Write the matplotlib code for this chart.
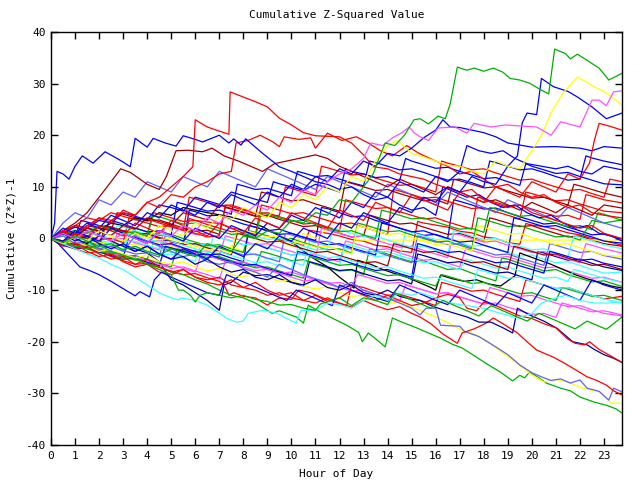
import matplotlib
matplotlib.use("Agg")
import matplotlib.pyplot as plt

# ---- colours (gnuplot-like palette) ----
RED = "#ff0000"
GRN = "#00b000"
BLU = "#0000ff"
MAG = "#ff50ff"
CYN = "#40ffff"
DRD = "#a00000"
BLK = "#000000"
YEL = "#ffff00"
DBL = "#0000a0"
SBL = "#6060ff"

TITLE = "Cumulative Z-Squared Value"
XLABEL = "Hour of Day"
YLABEL = "Cumulative (Z*Z)-1"
XTICKS = list(range(0, 24))
YTICKS = [-40, -30, -20, -10, 0, 10, 20, 30, 40]

# ---- series: (hour, cumulative value) ----
s01 = [(0,0),(0.5,-0.8),(1,0.5),(1.5,-0.5),(2,-1.5),(2.5,-1),(3,-2.2),(3.5,-1.5),(4,-2.5),(4.5,-3.2),(5,-2),(5.5,-2.8),(6,-3.5),(6.5,-1),(7,-1.8),(7.5,-2.5),(8,0.5),(8.5,0),(9,1.5),(9.5,1),(10,3.5),(10.5,3),(11,5),(11.5,4.5),(12,7.5),(12.5,7),(13,10),(13.4,12.5),(13.6,15),(13.9,18.5),(14.3,18),(14.7,20),(15.1,23),(15.35,23.2),(15.7,22.2),(16.1,23.7),(16.4,23.2),(16.6,26),(16.9,33.2),(17.3,32.6),(17.6,33),(18,32.4),(18.4,33),(18.8,32.2),(19.1,31),(19.5,30.7),(19.9,30.1),(20.3,29),(20.7,28),(20.95,36.7),(21.4,35.8),(21.6,34.8),(21.9,35.7),(22.3,34.5),(22.8,33),(23.2,30.7),(23.75,32)]
s02 = [(0,0),(0.5,1),(1,0),(1.5,1.5),(2,0.5),(2.5,-0.5),(3,1),(3.5,0),(4,-1),(4.5,1.5),(5,0.5),(5.5,2.5),(6,1.5),(6.5,4),(7,3),(7.5,5.5),(8,4.5),(8.5,6.5),(9,5.5),(9.5,8),(10,7),(10.5,9.5),(11,8.5),(11.5,11),(12,12.5),(12.5,13.5),(13,15.5),(13.3,18.5),(13.8,18),(14.2,19.5),(14.6,20.5),(14.9,21.6),(15.1,20.5),(15.35,19.7),(15.7,19),(16.1,21.4),(16.8,21.6),(17.3,20.4),(17.6,22.3),(18.3,21.6),(18.9,22),(19.5,21.8),(20.2,21.6),(20.8,20),(21.2,22.6),(22,21.6),(22.5,26.8),(22.8,26.8),(23.1,25.7),(23.4,28.4),(23.75,28.6)]
s03 = [(0,0),(0.5,-1),(1,0.5),(1.5,-0.5),(2,1.5),(2.5,0.5),(3,-0.5),(3.5,1),(4,0),(4.5,2.5),(5,1.5),(5.5,0.5),(6,3),(6.5,2),(7,4.5),(7.5,3.5),(8,6),(8.5,5),(9,4),(9.5,7),(10,6),(10.5,8.5),(11,7.5),(11.5,10),(12,9),(12.5,12),(13,11),(13.5,15),(14,18),(14.4,19),(15,16.5),(15.5,15.8),(16,15),(16.5,14.2),(17,14),(17.5,13),(18,12.5),(18.5,15),(19,14),(19.5,13.5),(20,17),(20.4,20),(20.8,24.3),(21.3,28.2),(21.9,31.3),(22.3,30.2),(22.6,29.4),(23.1,28.2),(23.75,25.9)]
s04 = [(0,0),(0.5,1),(1,-0.5),(1.5,0.5),(2,-1),(2.5,-2),(3,-1),(3.5,-2.5),(4,-1.5),(4.5,-3),(5,-4),(5.5,-2),(6,-3),(6.5,-4),(7,-1.5),(7.5,-2.5),(8,-3.5),(8.5,-1),(9,-2),(9.5,0.5),(10,-0.5),(10.5,2),(11,1),(11.5,0),(12,3),(12.5,2),(13,5),(13.5,4),(14,3),(14.5,6),(15,5),(15.5,8),(16,7),(16.5,10),(17,9),(17.5,12),(18,11),(18.5,10.5),(19,14),(19.4,16),(19.6,22.4),(19.8,24.3),(20.2,24),(20.4,31),(20.9,29.4),(21.5,28.5),(21.9,27.4),(22.5,25.5),(23.1,23.2),(23.75,24.3)]
s05 = [(0,0),(0.5,-1),(1,1),(1.5,0),(2,2.5),(2.5,1.5),(3,0.5),(3.5,3),(4,2),(4.5,1),(5,3.5),(5.5,2.5),(6,1.5),(6.5,0.5),(7,3),(7.5,2),(8,1),(8.5,4),(9,3),(9.5,2),(10,5),(10.5,4),(11,3),(11.5,2),(12,5.5),(12.5,4.5),(13,3.5),(13.5,7),(14,6),(14.5,5),(15,8.5),(15.5,7.5),(16,6.5),(16.5,5.5),(17,9),(17.5,8),(18,7),(18.5,10),(19,9),(19.5,8),(20,11),(20.5,10),(21,9),(21.5,12.5),(22,11.5),(22.4,14.6),(22.6,19),(22.8,22.3),(23.2,21.8),(23.75,21)]
s06 = [(0,0),(0.5,2),(1,1),(1.5,3),(2,2),(2.5,4.5),(3,3.5),(3.5,2.5),(4,5),(4.5,4),(5,6.5),(5.5,5.5),(6,4.5),(6.5,7),(7,6),(7.5,8.5),(8,7.5),(8.5,6.5),(9,9),(9.5,8),(10,10.5),(10.5,9.5),(11,12),(11.5,11),(12,13.5),(12.5,12.5),(13,15),(13.5,14),(14,16.5),(14.5,16),(15,17.5),(15.5,19.5),(16,21),(16.3,23),(16.6,21.6),(17,21.5),(17.5,21),(18,20.5),(18.5,19.7),(19,18.5),(20,17.7),(21,17.8),(22,17.5),(22.5,17),(23,17.8),(23.75,17.5)]
s07 = [(0,0),(0.5,-0.5),(1,1.5),(1.5,0.5),(2,-0.5),(2.5,2),(3,1),(3.5,0),(4,-1),(4.5,1.5),(5,0.5),(5.5,-0.5),(6,2),(6.5,1),(7,0),(7.5,2.5),(8,1.5),(8.5,0.5),(9,3),(9.5,2),(10,4.5),(10.5,3.5),(11,6),(11.5,5),(12,4),(12.5,7),(13,6),(13.5,9),(14,8),(14.5,11),(15,10),(15.5,9),(16,12),(16.5,11),(17,13),(17.3,18),(17.8,17),(18.3,16.5),(18.8,17),(19.3,15.5),(19.8,14.5),(20.4,14),(21,13.5),(21.5,14),(22,13),(22.5,12.5),(23,14),(23.75,13.3)]
s08 = [(0,0),(0.5,1),(1,2.5),(1.5,2),(2,4),(2.5,3.5),(3,5),(3.5,4.5),(4,7),(4.5,8),(5,10),(5.5,12),(5.9,13.9),(6,23),(6.5,21.6),(7,20.8),(7.4,20.2),(7.45,28.4),(8,27.4),(8.5,26.5),(9,25.5),(9.5,23.3),(10,22),(10.5,20.5),(11,19.9),(11.5,19.8),(12,19.7),(12.5,18.5),(13,16.2),(13.4,13.9),(14,13.5),(14.5,12.5),(15,12),(15.5,11.5),(16,10.5),(17,9),(17.5,9.5),(18,7.5),(19,6),(19.5,6.5),(20,5),(21,3.5),(22,2),(22.5,2.5),(23,1),(23.75,0)]
s09 = [(0,0),(0.5,1.5),(1,0.5),(1.5,2.5),(2,4),(2.5,3),(3,5.5),(3.5,4.5),(4,7),(4.5,6),(5,8.5),(5.5,8),(6,10),(6.5,11),(7,12.5),(7.5,13),(7.7,18.5),(8.2,19),(8.7,20),(9.2,18.8),(9.5,17.8),(9.7,19.7),(10.3,19.2),(10.8,19.5),(11,17.5),(11.5,20.4),(12.1,19),(12.7,19.7),(13.2,18.5),(13.7,17),(14.2,16),(14.8,18),(15.3,16.5),(16,15),(16.5,14),(17,12.5),(17.5,13),(18,11.5),(18.5,10),(19,10.5),(19.5,9),(20,8),(20.5,8.5),(21,7),(21.5,6),(22,6.5),(22.5,5),(23,4.5),(23.75,4)]
s10 = [(0,0),(0.15,3),(0.25,13),(0.5,12.5),(0.75,11.5),(1,14),(1.3,16),(1.75,14.6),(2.25,16.8),(2.75,15.5),(3,14.8),(3.3,13.9),(3.5,19.4),(4,17.7),(4.25,19.4),(4.75,18.5),(5.2,17.9),(5.5,19.9),(6,19.2),(6.3,18.7),(7,20),(7.4,18.5),(7.6,19.3),(7.9,18.1),(8.1,19.3),(8.8,16.5),(9.5,13.9),(10,13),(10.5,12),(11,11),(11.5,10.5),(12,9.5),(12.5,10),(13,8.5),(13.5,7.5),(14,8),(14.5,6.5),(15,5.5),(15.5,6),(16,4.5),(16.3,10),(16.8,9),(17.3,8),(17.8,8.5),(18.3,7),(18.8,6),(19.3,6.5),(19.8,5),(20.3,4),(20.8,4.5),(21.3,3),(21.8,2),(22.3,2.5),(22.8,1),(23.3,0.5),(23.75,-0.5)]
s11 = [(0,0),(0.5,3),(1,5),(1.5,4),(2,7.5),(2.5,6.5),(3,9),(3.5,8),(4,11),(4.5,10),(5,9),(5.5,12),(6,11),(6.5,10),(7,13),(7.5,12),(8,11),(8.5,10),(9,13.5),(9.5,12.5),(10,11.5),(10.5,10.5),(11,9.5),(11.5,12),(12,11),(12.5,10),(13,9),(13.5,8),(14,10.5),(14.5,9.5),(15,8.5),(15.5,7.5),(16,6.5),(16.5,9),(17,8),(17.5,7),(18,6),(18.5,5),(19,7.5),(19.5,6.5),(20,5.5),(20.5,4.5),(21,3.5),(21.5,6),(22,5),(22.5,4),(23,3),(23.75,2)]
s12 = [(0,0),(0.5,1.5),(1,3),(1.5,5),(2,8),(2.5,11),(2.9,13.5),(3.3,12.8),(3.7,11.5),(4,10.5),(4.5,9.5),(4.8,12),(5.2,17),(5.7,17.1),(6.3,16.8),(6.7,17.5),(7.2,16),(7.8,15),(8.3,14),(8.8,13),(9.3,14.5),(9.8,15),(10.4,15.6),(11,16.2),(11.5,15.5),(12,14),(12.5,13),(13,12),(13.5,11),(14,10),(14.5,11.5),(15,10.5),(15.5,9.5),(16,8.5),(16.5,10),(17,9),(17.5,8),(18,7),(18.5,7.5),(19,6.5),(19.5,5.5),(20,7),(20.5,6),(21,5),(21.5,6.5),(22,5.5),(22.5,4.5),(23,6.5),(23.75,5.9)]

low1 = [(0,0),(0.5,-0.8),(1,-1.5),(1.5,-1.2),(2,-2.5),(2.5,-3),(3,-4),(3.5,-3.6),(4,-5),(4.5,-5.5),(5,-6.5),(5.5,-7),(6,-8),(6.5,-8.8),(7,-10),(7.5,-11),(8,-11.5),(8.5,-12.5),(9.2,-14.5),(9.5,-14),(10.2,-15.2),(10.5,-16.4),(10.7,-12.9),(11.1,-14),(11.6,-15.2),(12.3,-16.8),(12.8,-18.2),(12.95,-20),(13.2,-18.3),(13.6,-19.8),(13.9,-21),(14.2,-15.4),(14.6,-16.2),(15.2,-17.3),(15.7,-18.3),(16.2,-19.3),(16.7,-20.5),(17.1,-21.2),(17.7,-23),(18.2,-24.5),(18.7,-25.9),(19.2,-27.6),(19.5,-26.5),(19.7,-27),(19.9,-25.9),(20.3,-27),(20.6,-28),(21.2,-29),(21.6,-29.5),(22,-30.7),(22.6,-31.7),(23.1,-32.3),(23.5,-33),(23.75,-33.8)]
low2 = [(0,0),(0.5,-1),(1,-0.5),(1.5,-1.5),(2,-2.5),(2.5,-2),(3,-3),(3.5,-3.8),(4,-3.2),(4.5,-4.5),(5,-5),(5.5,-4.5),(6,-5.5),(6.5,-6.3),(7,-5.8),(7.5,-7),(8,-7.5),(8.5,-6.5),(9,-7.5),(9.5,-8.3),(10,-8),(10.5,-9.2),(11,-9.8),(11.5,-9.3),(12,-10.5),(12.5,-11.2),(13,-11),(13.5,-12),(14,-12.6),(14.5,-12.3),(15,-13.3),(15.35,-13.9),(16,-15.2),(16.5,-16.3),(17.1,-17.8),(17.6,-18.5),(18.1,-19.7),(18.6,-21.5),(19.1,-23.2),(19.5,-24.6),(19.9,-26.1),(20.5,-27.8),(21,-27.3),(21.5,-27.8),(22.1,-29),(22.8,-29.7),(23.3,-31.9),(23.75,-31.9)]
low3 = [(0,0),(0.5,0.5),(1,-1),(1.5,-0.5),(2,-2),(2.5,-1.5),(3,-2.5),(3.5,0.5),(4,-0.5),(4.5,-1.5),(5,-2.5),(5.5,-3.5),(6,-3),(6.5,-4.5),(7,-5),(7.5,-4.5),(8,-5.8),(8.5,-6.5),(9,-7.5),(9.5,-5),(10,-6),(10.5,-7),(11,-7.8),(11.5,-8.5),(12,-9.5),(12.5,-8.5),(13,-10),(13.5,-10.8),(14,-11.6),(14.5,-12.5),(15,-13.5),(15.35,-14.8),(15.6,-13.5),(16,-13.5),(16.2,-16.8),(17,-17),(17.2,-18),(17.8,-19),(18.5,-21),(19,-22.5),(19.5,-24.5),(20,-26),(20.4,-26.8),(20.8,-27.5),(21.2,-27.2),(21.6,-28),(22,-27.4),(22.3,-29),(22.8,-29.6),(23.2,-31.3),(23.4,-29),(23.75,-29.7)]
low4 = [(0,0),(0.5,-1),(1,-2),(1.5,-1.5),(2,-3),(2.5,-4),(3,-3.5),(3.5,-5),(4,-4),(4.5,-5.5),(5,-6.5),(5.5,-6),(6,-7.5),(6.5,-8),(7,-7.5),(7.5,-9),(8,-9.5),(8.5,-8.5),(9,-10),(9.5,-11),(10,-10.5),(10.5,-12),(11,-12.5),(11.5,-11.5),(12,-12.5),(12.5,-13.3),(13,-12),(13.5,-13),(14,-13.8),(14.5,-13.2),(15,-14.5),(15.35,-15.2),(15.8,-16.5),(16.3,-18.5),(16.9,-20.3),(17.1,-18.3),(17.6,-17.5),(18.1,-16.4),(18.4,-15.4),(18.9,-16.8),(19.4,-18.3),(19.8,-20),(20.2,-21.6),(20.9,-23),(21.3,-24),(21.7,-25.1),(22.3,-26.8),(22.7,-27.5),(23.1,-28.4),(23.4,-29.5),(23.75,-30.3)]
low5 = [(0,0),(0.5,1),(1,0),(1.5,-1),(2,0.5),(2.5,-0.5),(3,-1.5),(3.5,-2.5),(4,-1.5),(4.5,-3),(5,-4),(5.5,-3.5),(6,-5),(6.5,-4),(7,-5.5),(7.5,-6.5),(8,-6),(8.5,-7.5),(9,-8),(9.5,-7),(10,-8.5),(10.5,-9),(11,-8),(11.5,-9.5),(12,-10),(12.5,-9),(13,-10.5),(13.5,-11),(14,-10),(14.5,-11.2),(15,-11.8),(15.35,-12),(15.8,-13),(16.3,-13.8),(16.8,-14.5),(17.3,-15.2),(17.8,-16.2),(18.3,-16.2),(18.8,-17.3),(19.2,-18.3),(19.4,-13.5),(19.9,-14.8),(20.5,-16),(21.05,-17.4),(21.4,-18.8),(21.7,-20),(22.3,-20.6),(22.6,-21.5),(23,-22.5),(23.4,-23.2),(23.75,-24)]
low6 = [(0,0),(0.5,-1.5),(1,-1),(1.5,-2.5),(2,-3.5),(2.5,-3),(3,-4.5),(3.5,-5.5),(4,-5),(4.5,-6.5),(5,-7),(5.5,-6),(6,-7.5),(6.5,-8.5),(7,-9),(7.5,-8),(8,-9.5),(8.5,-10),(9,-11),(9.5,-10.5),(10,-11.5),(10.5,-12),(11,-11),(11.5,-12.2),(12,-11.5),(12.5,-10),(13,-11),(13.5,-12),(14,-11),(14.5,-12),(15,-13),(15.5,-12.5),(16,-11.5),(16.5,-10.8),(17,-11.5),(17.3,-13.5),(17.7,-14),(18,-12.3),(18.5,-13),(19,-14),(19.5,-15),(20,-15.5),(20.5,-16.5),(21,-17.3),(21.5,-19.5),(21.8,-20.3),(22.2,-20.6),(22.4,-20),(22.8,-21.5),(23.3,-22.8),(23.75,-24)]
low7 = [(0,0),(0.3,-1),(0.6,-2.5),(0.9,-4),(1.2,-5.5),(1.6,-6.2),(2,-7),(2.5,-8.3),(3.1,-10),(3.5,-11.1),(3.7,-10.3),(4.1,-11.3),(4.3,-8),(4.6,-6.5),(5,-7.5),(5.5,-8.5),(6,-9.5),(6.5,-10.5),(7,-11),(7.3,-7),(7.8,-8),(8.3,-9),(8.8,-10),(9.3,-11),(9.8,-12),(10.2,-10),(10.7,-11),(11.2,-12),(11.7,-13),(12,-9),(12.5,-10),(13,-10.8),(13.5,-11.5),(14,-12.2),(14.5,-9),(15,-10),(15.5,-11),(16,-12),(16.5,-12.8),(17,-10),(17.5,-11),(18,-12),(18.5,-13),(19,-10.5),(19.5,-11.5),(20,-12.5),(20.5,-9),(21,-10),(21.5,-11),(22,-12),(22.5,-8),(23,-9),(23.75,-10)]
low8 = [(0,0),(0.5,-1),(1,-2),(1.5,-3),(2,-3.8),(2.5,-5),(3,-6),(3.5,-7.5),(4,-9),(4.5,-10.5),(5,-11.5),(5.3,-11.9),(5.4,-11.5),(6,-12),(6.5,-12.9),(7.3,-15.4),(7.7,-16.2),(8,-16),(8.2,-14.5),(8.8,-13.9),(9.4,-14.5),(10.2,-16.4),(10.4,-13.9),(11,-14),(11.5,-12.5),(12,-12.8),(12.5,-13.5),(13,-12),(13.5,-11),(14,-12),(14.5,-10.5),(15,-11),(15.35,-10.5),(16,-11.5),(16.6,-12.5),(17.3,-13),(18,-13.5),(18.7,-14.5),(19.4,-15.4),(20,-14.5),(20.4,-12.5),(21,-11.5),(21.4,-11),(22,-12),(22.6,-12.5),(23.1,-12.5),(23.75,-12.3)]
low9 = [(0,0),(0.5,-0.5),(1,-1.5),(1.5,-2),(2,-1.2),(2.5,-2.5),(3,-3.2),(3.5,-4),(4,-5),(4.5,-6),(5,-7),(5.3,-10),(5.5,-10),(5.8,-11),(6,-12.3),(6.2,-11),(6.5,-10.5),(7,-11),(7.5,-11.5),(8,-11),(8.5,-11.8),(9,-12.2),(9.5,-12.9),(10,-12.8),(10.5,-13.5),(11,-13.9),(11.2,-12.7),(12,-11.5),(12.5,-13),(13,-11.5),(13.5,-12),(14,-12.8),(14.3,-10.5),(14.8,-11.5),(15.3,-12.5),(15.8,-13.5),(16.3,-12),(16.8,-13),(17.3,-14),(17.8,-15),(18.3,-13),(18.8,-14),(19.3,-15),(19.8,-16),(20.3,-14.5),(20.8,-15.5),(21.3,-16.5),(21.8,-17.5),(22.3,-16),(23.1,-17.6),(23.75,-15.2)]

c01 = [(0,0),(0.5,-0.5),(1,-0.8),(1.5,-1.5),(2,-1.8),(2.25,2.2),(2.5,1.8),(3,1.5),(3.5,1.2),(4,0.4),(4.5,0),(5,-0.7),(5.5,-1.1),(5.75,3.9),(6,3.5),(6.5,3.2),(7,2.9),(7.5,2),(8,1.6),(8.5,0.8),(9,0.5),(9.5,-0.3),(10,-0.6),(10.5,-1.4),(10.75,1.6),(11,1.4),(11.5,1),(12,0.5),(12.5,-0.2),(13,-0.5),(13.5,-1.3),(14,-1.6),(14.5,-2.4),(15,-2.7),(15.25,3.3),(15.5,3),(16,2.6),(16.5,2.2),(17,1.4),(17.5,1.1),(18,0.3),(18.5,0),(19,-0.8),(19.5,-1.1),(19.75,2.9),(20,2.6),(20.5,2.3),(21,1.8),(21.5,1.1),(22,0.7),(22.5,0),(23,-0.4),(23.75,-1.3)]
c02 = [(0,0),(0.5,-1.2),(1,-1),(1.5,-2),(2,-2.8),(2.5,-2.5),(3,-3.5),(3.5,-4.2),(4,-4),(4.25,-1),(4.5,-1.3),(5,-2),(5.5,-2.6),(6,-2.4),(6.5,-3.3),(7,-4),(7.5,-4.8),(8,-4.6),(8.5,-5.4),(8.75,-2.5),(9,-2.8),(9.5,-3.5),(10,-4.3),(10.5,-4.1),(11,-5),(11.5,-5.7),(12,-6.3),(12.5,-6.1),(13,-7),(13.25,-2),(13.5,-2.3),(14,-3),(14.5,-3.8),(15,-4.5),(15.5,-4.3),(16,-5.2),(16.5,-6),(17,-5.8),(17.5,-6.7),(18,-7.5),(18.5,-8.2),(18.75,-3.8),(19,-4),(19.5,-4.8),(20,-5.5),(20.5,-6.3),(21,-6),(21.5,-7),(22,-7.7),(22.5,-8.4),(23,-8.2),(23.75,-9.3)]
c03 = [(0,0),(0.5,0.8),(1,0.3),(1.25,3.5),(1.5,3.2),(2,2.5),(2.5,2.2),(3,1.4),(3.5,0.8),(4,0.9),(4.5,0),(5,-0.6),(5.5,-1.2),(5.75,5.5),(6,5.2),(6.5,4.4),(7,4.5),(7.5,3.6),(8,2.8),(8.5,2.2),(9,1.5),(9.5,1.8),(10,1),(10.5,0.3),(11,-0.4),(11.25,6),(11.5,5.8),(12,5),(12.5,4.2),(13,4.4),(13.5,3.5),(14,2.8),(14.5,2),(15,1.3),(15.5,0.6),(16,0.8),(16.5,0),(16.75,7.5),(17,7.2),(17.5,6.5),(18,5.7),(18.5,5.9),(19,5),(19.5,4.2),(20,3.5),(20.5,2.8),(21,3),(21.5,2.2),(22,1.5),(22.5,0.7),(23,0.9),(23.75,-0.2)]
c04 = [(0,0),(0.5,-0.6),(1,-1.4),(1.5,-1.1),(2,-2),(2.5,-2.6),(2.75,1),(3,0.7),(3.5,0),(4,-0.7),(4.5,-0.4),(5,-1.2),(5.5,-2),(6,-2.7),(6.5,-2.4),(7,-3.3),(7.25,0.5),(7.5,0.2),(8,-0.5),(8.5,-1.2),(9,-1),(9.5,-1.8),(10,-2.5),(10.5,-3.2),(11,-3),(11.5,-3.8),(12,-4.5),(12.25,-0.5),(12.5,-0.8),(13,-1.5),(13.5,-2.2),(14,-2),(14.5,-2.8),(15,-3.5),(15.5,-4.2),(16,-4),(16.5,-4.8),(17,-5.5),(17.25,-2),(17.5,-2.3),(18,-3),(18.5,-3.7),(19,-3.5),(19.5,-4.3),(20,-5),(20.5,-5.7),(21,-5.5),(21.5,-6.3),(22,-7),(22.5,-7.7),(23,-7.5),(23.75,-8.5)]
c05 = [(0,0),(0.5,0.5),(1,-0.2),(1.5,-0.8),(2,-0.6),(2.5,-1.4),(3,-2),(3.5,-1.8),(4,-2.5),(4.5,-3.2),(5,-3),(5.5,-3.8),(6,-4.4),(6.25,-1),(6.5,-1.3),(7,-2),(7.5,-2.6),(8,-2.4),(8.5,-3.2),(9,-3.9),(9.5,-3.7),(10,-4.5),(10.5,-5.2),(10.75,-0.5),(11,-0.8),(11.5,-1.5),(12,-2.2),(12.5,-2),(13,-2.8),(13.5,-3.5),(14,-3.3),(14.5,-4),(14.75,1.5),(15,1.2),(15.5,0.5),(16,-0.2),(16.5,0),(17,-0.8),(17.5,-1.5),(18,-1.3),(18.5,-2),(19,-2.7),(19.5,-3.4),(20,-3.2),(20.5,-4),(21,-4.7),(21.5,-4.5),(22,-5.2),(22.5,-6),(23,-6.7),(23.75,-6.5)]
c06 = [(0,0),(0.5,1.2),(1,0.8),(1.5,2.5),(2,2),(2.5,1.5),(2.75,5),(3,4.7),(3.5,4),(4,3.4),(4.5,3.6),(5,2.8),(5.5,2),(6,1.4),(6.5,1.6),(7,0.8),(7.25,6),(7.5,5.7),(8,5),(8.5,4.3),(9,4.5),(9.5,3.7),(10,3),(10.5,2.3),(11,2.5),(11.5,1.7),(12,1),(12.5,0.3),(13,0.5),(13.25,4.5),(13.5,4.2),(14,3.5),(14.5,2.8),(15,3),(15.5,2.2),(16,1.5),(16.5,0.8),(17,1),(17.5,0.2),(18,-0.5),(18.25,4),(18.5,3.7),(19,3),(19.5,2.3),(20,2.5),(20.5,1.7),(21,1),(21.5,0.3),(22,0.5),(22.5,-0.3),(23,-1),(23.75,-1.5)]
c07 = [(0,0),(0.5,1),(1,0.5),(1.5,2),(2,1.5),(2.5,3),(3,2.5),(3.5,4),(4,3.5),(4.5,5),(5,4.5),(5.5,6),(6,5.5),(6.5,5),(7,4.6),(7.45,4.2),(8,3.5),(8.8,2.3),(9.5,0.5),(10.2,-1.3),(10.8,-3.5),(11.5,-5.5),(12,-7.5),(12.6,-9.6),(12.75,-4.2),(13.3,-5),(13.8,-6),(14.3,-6.8),(14.8,-7.5),(15.3,-8.5),(15.8,-9.5),(16,-10),(16.2,-7.1),(16.7,-7.8),(17.2,-8.3),(17.7,-8),(18.2,-8.8),(18.7,-9.2),(19.3,-7.2),(19.5,-2.8),(20.2,-4),(20.8,-5),(21.3,-6),(21.8,-7),(22.3,-7.8),(22.8,-8.5),(23.3,-9.2),(23.75,-9.6)]
c08 = [(0,0),(0.5,-0.5),(1,0.5),(1.5,0),(2,-1),(2.5,-0.5),(3,-1.5),(3.5,-1),(4,-2),(4.5,-0.5),(5,-1.5),(5.5,-2.5),(6,-1),(6.5,-2),(7,-3),(7.5,-1.5),(8,-2.5),(8.5,-1),(9,0.5),(9.5,-0.5),(10,-1.5),(10.5,1),(11,0),(11.5,2),(12,1),(12.4,3),(12.7,-0.3),(23.75,-0.3)]
c09 = [(0,0),(0.5,-0.5),(1,0.5),(1.5,0),(2,-0.8),(2.5,-1.5),(3,-1.2),(3.5,-2),(4,-2.8),(4.5,-4.5),(5,-8),(5.5,-9),(6,-10.5),(6.5,-12),(7,-13.9),(7.2,-9),(7.5,-8.5),(8,-6.5),(8.5,-7.2),(9,-7),(9.5,-7.8),(10,-8.5),(10.5,-9.2),(10.75,-4.5),(11,-4.8),(11.5,-5.5),(12,-6.2),(12.5,-6),(13,-6.8),(13.5,-7.5),(14,-8.2),(14.5,-8),(15,-8.8),(15.25,-3),(15.5,-3.3),(16,-4),(16.5,-4.7),(17,-4.5),(17.5,-5.3),(18,-6),(18.5,-6.7),(19,-6.5),(19.5,-7.3),(20,-8),(20.25,-2.5),(20.5,-2.8),(21,-3.5),(21.5,-4.2),(22,-4),(22.5,-4.8),(23,-5.5),(23.75,-6.2)]
c10 = [(0,0),(0.5,1.5),(1,1),(1.5,0.3),(2,2.5),(2.5,2),(3,1.3),(3.5,0.6),(4,0.8),(4.25,5),(4.5,4.7),(5,4),(5.5,3.3),(6,3.5),(6.5,2.7),(7,2),(7.5,1.3),(8,1.5),(8.5,0.7),(8.75,6.5),(9,6.2),(9.5,5.5),(10,4.8),(10.5,5),(11,4.2),(11.5,3.5),(12,2.8),(12.5,3),(13,2.2),(13.5,1.5),(14,0.8),(14.25,9.5),(14.5,9.2),(15,8.5),(15.5,7.8),(16,8),(16.5,7.2),(17,6.5),(17.5,5.8),(18,6),(18.5,5.2),(19,4.5),(19.5,3.8),(19.75,9),(20,8.7),(20.5,8),(21,7.3),(21.5,7.5),(22,6.7),(22.5,6),(23,5.3),(23.75,5)]
c11 = [(0,0),(0.5,-0.8),(1,0.6),(1.5,0),(2,-0.7),(2.5,-1.4),(3,-1.2),(3.5,2),(4,1.3),(4.5,0.6),(5,0.8),(5.5,0),(6,-0.7),(6.5,-1.4),(7,-1.2),(7.5,-2),(8,-2.7),(8.25,1.5),(8.5,1.2),(9,0.5),(9.5,-0.2),(10,0),(10.5,-0.8),(11,-1.5),(11.5,-2.2),(12,-2),(12.5,-2.8),(12.75,3),(13,2.7),(13.5,2),(14,1.3),(14.5,1.5),(15,0.7),(15.5,0),(16,-0.7),(16.5,-0.5),(17,-1.3),(17.5,-2),(17.75,4),(18,3.7),(18.5,3),(19,2.3),(19.5,2.5),(20,1.7),(20.5,1),(21,0.3),(21.5,0.5),(22,-0.3),(22.5,3.5),(23,3),(23.75,3.6)]
c12 = [(0,0),(0.5,-1),(1,-1.8),(1.5,-1.5),(2,-2.3),(2.5,-3),(3,-3.8),(3.25,0.5),(3.5,0.2),(4,-0.5),(4.5,-1.2),(5,-1),(5.5,-1.8),(6,-2.5),(6.5,-3.2),(7,-3),(7.5,-3.8),(8,-4.5),(8.25,2.5),(8.5,2.2),(9,1.5),(9.5,0.8),(10,1),(10.5,0.2),(11,-0.5),(11.5,-1.2),(12,-1),(12.5,-1.8),(13,-2.5),(13.5,-3.2),(13.75,3),(14,2.7),(14.5,2),(15,1.3),(15.5,1.5),(16,0.7),(16.5,0),(17,-0.7),(17.5,-0.5),(18,-1.3),(18.5,-2),(19,-2.7),(19.25,4),(19.5,3.7),(20,3),(20.5,2.3),(21,2.5),(21.5,1.7),(22,1),(22.5,0.3),(23,-0.5),(23.75,-0.9)]
c13 = [(0,0),(0.5,0.5),(1,-0.3),(1.5,-1),(2,-0.8),(2.5,-1.6),(3,-2.3),(3.5,-3),(4,-2.8),(4.5,-3.6),(4.75,0.5),(5,0.2),(5.5,-0.5),(6,-1.2),(6.5,-1),(7,-1.8),(7.5,-2.5),(8,-3.2),(8.5,-3),(9,-3.8),(9.5,-4.5),(9.75,1),(10,0.7),(10.5,0),(11,-0.7),(11.5,-0.5),(12,-1.3),(12.5,-2),(13,-2.7),(13.5,-2.5),(14,-3.3),(14.5,-4),(15,-4.7),(15.25,0.5),(15.5,0.2),(16,-0.5),(16.5,-1.2),(17,-1),(17.5,-1.8),(18,-2.5),(18.5,-3.2),(19,-3),(19.5,-3.8),(20,-4.5),(20.5,-5.2),(20.75,-1),(21,-1.3),(21.5,-2),(22,-2.7),(22.5,-2.5),(23,-3.3),(23.75,-4)]
c14 = [(0,0),(0.5,-1),(1,-2),(1.5,-2.8),(2,-2.5),(2.5,-3.5),(3,-4.3),(3.5,-5),(4,-4.8),(4.5,-5.6),(5,-6.3),(5.5,-7),(6,-6.8),(6.5,-7.6),(7,-8.3),(7.2,-9),(7.4,-11),(7.6,-10.5),(8,-11.2),(8.5,-11.5),(9,-12.9),(9.5,-11.5),(10,-11.8),(10.3,-10),(10.8,-10.5),(11.3,-11.5),(11.8,-12.3),(12.3,-13),(12.5,-9),(13,-9.5),(13.5,-10.3),(14,-11),(14.5,-10.8),(15,-11.5),(15.5,-12.2),(16,-13),(16.25,-8.5),(16.5,-8.8),(17,-9.5),(17.5,-10.2),(18,-10),(18.5,-10.8),(19,-11.5),(19.5,-12.2),(19.75,-8),(20,-8.3),(20.5,-9),(21,-9.7),(21.5,-9.5),(22,-10.3),(22.5,-11),(23,-11.7),(23.75,-11.2)]
c15 = [(0,0),(0.5,0.7),(1,0),(1.5,1.2),(2,0.5),(2.5,-0.2),(3,0),(3.5,-0.8),(4,-1.5),(4.5,-2.2),(4.75,2.5),(5,2.2),(5.5,1.5),(6,0.8),(6.5,1),(7,0.2),(7.5,-0.5),(8,-1.2),(8.5,-1),(9,-1.8),(9.5,-2.5),(10,-3.2),(10.5,-3),(11,-3.8),(11.25,2),(11.5,1.7),(12,1),(12.5,0.3),(13,0.5),(13.5,-0.3),(14,-1),(14.5,-1.7),(15,-1.5),(15.5,-2.3),(16,-3),(16.5,-3.7),(16.75,1),(17,0.7),(17.5,0),(18,-0.7),(18.5,-0.5),(19,-1.3),(19.5,-2),(20,-2.7),(20.5,-2.5),(21,-3.3),(21.5,-4),(22,-4.7),(22.25,-1),(22.5,-1.3),(23,-2),(23.75,-2.8)]
c16 = [(0,0),(0.5,-0.5),(1,-1.3),(1.5,-2),(1.75,1),(2,0.7),(2.5,0),(3,-0.7),(3.5,-0.5),(4,-1.3),(4.5,-2),(5,-2.7),(5.5,-2.5),(6,-3.3),(6.5,-4),(6.75,0.5),(7,0.2),(7.5,-0.5),(8,-1.2),(8.5,-1),(9,-1.8),(9.5,-2.5),(10,-3.2),(10.5,-3),(11,-3.8),(11.5,-4.5),(12,-5.2),(12.25,-1),(12.5,-1.3),(13,-2),(13.5,-2.7),(14,-2.5),(14.5,-3.3),(15,-4),(15.5,-4.7),(16,-4.5),(16.5,-5.3),(17,-6),(17.25,-4),(17.5,-4.3),(18,-5),(18.5,-5.7),(19,-5.5),(19.5,-6.3),(20,-7),(20.5,-7.7),(21,-7.5),(21.5,-8.3),(21.75,-6),(22,-6.3),(22.5,-7),(23,-7.7),(23.75,-8.5)]
c17 = [(0,0),(0.5,1),(1,2.2),(1.5,1.5),(2,0.8),(2.5,3.5),(3,2.8),(3.5,2),(4,1.3),(4.5,1.5),(5,0.7),(5.25,7),(5.5,6.7),(6,6),(6.5,5.3),(7,5.5),(7.5,4.7),(7.75,10.5),(8,10.2),(8.5,9.5),(9,9.7),(9.5,9),(10,8.3),(10.25,13),(10.5,12.7),(11,12),(11.5,12.2),(12,11.5),(12.5,10.8),(13,10.2),(13.25,15),(13.5,14.7),(14,14),(14.5,13.3),(15,13.5),(15.5,12.8),(16,12),(16.5,11.3),(17,11.5),(17.5,10.8),(18,10),(18.25,15),(18.5,14.7),(19,14),(19.5,13.3),(20,13.5),(20.5,12.8),(21,12),(21.5,11.3),(22,11.5),(22.25,16),(22.5,15.6),(23,15),(23.75,14.3)]
c18 = [(0,0),(0.5,-0.5),(1,1),(1.5,0.5),(2,-0.2),(2.5,0),(3,-0.8),(3.25,4),(3.5,3.7),(4,3),(4.5,2.3),(5,2.5),(5.5,1.7),(6,1),(6.5,0.3),(7,0.5),(7.25,6.5),(7.5,6.2),(8,5.5),(8.5,4.8),(9,5),(9.5,4.2),(10,3.5),(10.5,2.8),(11,3),(11.5,2.2),(12,1.5),(12.25,7.5),(12.5,7.2),(13,6.5),(13.5,5.8),(14,6),(14.5,5.2),(15,4.5),(15.5,3.8),(16,4),(16.5,3.2),(17,2.5),(17.5,1.8),(17.75,8),(18,7.7),(18.5,7),(19,6.3),(19.5,6.5),(20,5.7),(20.5,5),(21,4.3),(21.5,4.5),(22,3.7),(22.25,8.5),(22.5,8.2),(23,7.5),(23.75,6.9)]
c19 = [(0,0),(0.5,-0.7),(1,-1.5),(1.5,-1.2),(2,-2),(2.5,-2.8),(3,-3.5),(3.5,-3.3),(4,-4),(4.5,-4.8),(5,-5.5),(5.25,-2),(5.5,-2.3),(6,-3),(6.5,-3.7),(7,-3.5),(7.5,-4.3),(8,-5),(8.5,-5.7),(9,-5.5),(9.5,-6.3),(10,-7),(10.5,-7.7),(10.75,-3.5),(11,-3.8),(11.5,-4.5),(12,-5.2),(12.5,-5),(13,-5.8),(13.5,-6.5),(14,-7.2),(14.5,-7),(15,-7.8),(15.5,-8.5),(16,-9.2),(16.25,-7),(16.5,-7.3),(17,-8),(17.5,-8.7),(18,-8.5),(18.5,-9.3),(19,-10),(19.5,-10.7),(20,-10.5),(20.5,-11.3),(21,-12),(21.25,-9.5),(21.5,-9.8),(22,-10.5),(22.5,-11.2),(23,-11),(23.75,-12)]
c20 = [(0,0),(0.5,-1),(1,-0.5),(1.5,-1.7),(2,-2.5),(2.5,-3.2),(3,-3),(3.5,-3.8),(4,-4.5),(4.5,-5.2),(5,-5),(5.5,-5.8),(6,-6.5),(6.25,-3),(6.5,-3.3),(7,-4),(7.5,-4.7),(8,-4.5),(8.5,-5.3),(9,-6),(9.5,-6.7),(10,-6.5),(10.5,-7.3),(11,-8),(11.5,-8.7),(12,-8.5),(12.5,-9.3),(12.75,-7),(13,-7.3),(13.5,-8),(14,-8.7),(14.5,-8.5),(15,-9.3),(15.5,-10),(16,-10.7),(16.5,-10.5),(17,-11.3),(17.5,-12),(18,-12.7),(18.25,-9.5),(18.5,-9.8),(19,-10.5),(19.5,-11.2),(20,-11),(20.5,-11.8),(21,-12.5),(21.5,-13.2),(22,-13),(22.5,-13.8),(23,-14.5),(23.75,-15)]
c21 = [(0,0),(0.5,1),(1,0.3),(1.5,-0.4),(2,-0.2),(2.5,-1),(2.75,2.5),(3,2.2),(3.5,1.5),(4,0.8),(4.5,1),(5,0.2),(5.5,-0.5),(6,-1.2),(6.5,-1),(7,-1.8),(7.5,-2.5),(7.75,1.5),(8,1.2),(8.5,0.5),(9,-0.2),(9.5,0),(10,-0.8),(10.5,-1.5),(11,-2.2),(11.5,-2),(11.75,2),(12,1.7),(12.5,1),(13,0.3),(13.5,0.5),(14,-0.3),(14.5,-1),(15,-1.7),(15.5,-1.5),(16,-2.3),(16.5,-3),(16.75,1.5),(17,1.2),(17.5,0.5),(18,-0.2),(18.5,0),(19,-0.8),(19.5,-1.5),(20,-2.2),(20.5,-2),(21,-2.8),(21.5,-3.5),(21.75,0.5),(22,0.2),(22.5,-0.5),(23,-1.2),(23.75,-2)]
c22 = [(0,0),(0.5,-1.3),(1,-2),(1.5,-1.8),(2,-2.6),(2.5,-3.3),(3,-4),(3.5,-3.8),(4,-4.6),(4.5,-5.3),(4.75,-1.5),(5,-1.8),(5.5,-2.5),(6,-3.2),(6.5,-3),(7,-3.8),(7.5,-4.5),(8,-5.2),(8.5,-5),(9,-5.8),(9.5,-6.5),(10,-7.2),(10.25,-2.5),(10.5,-2.8),(11,-3.5),(11.5,-4.2),(12,-4),(12.5,-4.8),(13,-5.5),(13.5,-6.2),(14,-6),(14.5,-6.8),(15,-7.5),(15.25,-1),(15.5,-1.3),(16,-2),(16.5,-2.7),(17,-2.5),(17.5,-3.3),(18,-4),(18.5,-4.7),(19,-4.5),(19.5,-5.3),(20,-6),(20.5,-6.7),(20.75,-2.5),(21,-2.8),(21.5,-3.5),(22,-4.2),(22.5,-4),(23,-4.8),(23.75,-5.5)]
c23 = [(0,0),(0.5,1.5),(1,2.5),(1.5,4),(2,3.5),(2.5,5),(3,4.3),(3.5,3.6),(4,3.8),(4.5,3),(5,2.3),(5.5,1.6),(5.75,8),(6,7.7),(6.5,7),(7,6.3),(7.5,6.5),(8,5.7),(8.5,5),(9,4.3),(9.5,4.5),(9.75,10),(10,9.7),(10.5,9),(11,8.3),(11.25,14),(11.5,13.7),(12,13),(12.5,12.3),(13,12.5),(13.5,11.7),(14,11),(14.5,10.3),(15,10.5),(15.5,9.8),(16,9),(16.25,15),(16.5,14.6),(17,14),(17.5,13.3),(18,13.5),(18.5,12.7),(19,12),(19.5,11.3),(20,11.5),(20.5,10.7),(21,10),(21.5,9.3),(22,9.5),(22.5,8.7),(23,8),(23.25,11.5),(23.75,11)]
c24 = [(0,0),(0.5,-0.5),(1,-1.2),(1.5,-0.8),(2,-1.6),(2.25,2.5),(2.5,2.2),(3,1.5),(3.5,0.8),(4,1),(4.5,0.2),(5,-0.5),(5.5,-1.2),(6,-1),(6.5,-1.8),(7,-2.5),(7.5,-3.2),(7.75,1),(8,0.7),(8.5,0),(9,-0.7),(9.5,-0.5),(10,-1.3),(10.5,-2),(11,-2.7),(11.5,-2.5),(12,-3.3),(12.5,-4),(13,-4.7),(13.5,-4.5),(14,-5.3),(14.25,-1),(14.5,-1.3),(15,-2),(15.5,-2.7),(16,-2.5),(16.5,-3.3),(17,-4),(17.5,-4.7),(18,-4.5),(18.5,-5.3),(19,-6),(19.25,-1.5),(19.5,-1.8),(20,-2.5),(20.5,-3.2),(21,-3),(21.5,-3.8),(22,-4.5),(22.5,-5.2),(23,-5),(23.75,-6)]
c25 = [(0,0),(0.5,0.6),(1,-0.2),(1.5,-1),(2,-0.7),(2.5,-1.5),(3,-2.2),(3.25,1.5),(3.5,1.2),(4,0.5),(4.5,-0.2),(5,0),(5.5,-0.8),(6,-1.5),(6.5,-2.2),(7,-2),(7.5,-2.8),(7.75,2),(8,1.7),(8.5,1),(9,0.3),(9.5,0.5),(10,-0.3),(10.5,-1),(11,-1.7),(11.5,-1.5),(12,-2.3),(12.5,-3),(12.75,2.5),(13,2.2),(13.5,1.5),(14,0.8),(14.5,1),(15,0.2),(15.5,-0.5),(16,-1.2),(16.5,-1),(17,-1.8),(17.5,-2.5),(17.75,2.5),(18,2.2),(18.5,1.5),(19,0.8),(19.5,1),(20,0.2),(20.5,-0.5),(21,-1.2),(21.5,-1),(22,-1.8),(22.5,-2.5),(23,-3.2),(23.75,-3.5)]
c26 = [(0,0),(0.5,0.8),(1,1.6),(1.5,1),(2,2.5),(2.5,1.8),(3,1.1),(3.5,1.3),(4,0.5),(4.25,4.5),(4.5,4.2),(5,3.5),(5.5,2.8),(6,3),(6.5,2.2),(7,1.5),(7.5,0.8),(8,1),(8.5,0.2),(8.75,5),(9,4.7),(9.5,4),(10,3.3),(10.5,3.5),(11,2.7),(11.5,2),(12,1.3),(12.5,1.5),(13,0.7),(13.5,0),(13.75,5.5),(14,5.2),(14.5,4.5),(15,3.8),(15.5,4),(16,3.2),(16.5,2.5),(17,1.8),(17.5,2),(18,1.2),(18.25,6),(18.5,5.7),(19,5),(19.5,4.3),(20,4.5),(20.5,3.7),(21,3),(21.5,2.3),(22,2.5),(22.5,1.7),(22.75,5),(23,4.7),(23.75,3.5)]
n01 = [(0,0),(0.5,1),(1,2.5),(1.5,2),(2,3.5),(2.5,3),(3,5),(3.5,4.3),(4,3.6),(4.5,6.5),(5,6),(5.5,5.3),(6,8),(6.5,7.3),(7,6.6),(7.5,9),(8,8.3),(8.5,7.6),(9,7),(9.25,11),(9.5,10.6),(10,10),(10.5,9.3),(11,10.5),(11.5,9.8),(12,9),(12.25,13.5),(12.5,13),(13,12.5),(13.5,11.8),(14,12),(14.5,11.2),(14.75,15.5),(15,15),(15.5,14.3),(16,13.6),(16.5,13.8),(17,13),(17.5,12.3),(18,11.6),(18.5,11.8),(19,11),(19.5,10.3),(19.75,14.5),(20,14),(20.5,13.3),(21,12.6),(21.5,12.8),(22,12),(22.5,11.3),(23,10.6),(23.75,10.4)]
n02 = [(0,0),(0.5,-0.8),(1,-1.6),(1.5,-1.3),(2,-2.2),(2.5,-3),(3,-3.8),(3.5,-3.5),(4,-4.3),(4.5,-5),(5,-5.8),(5.5,-5.5),(6,-6.3),(6.5,-7),(7,-7.8),(7.25,-4.5),(7.5,-4.8),(8,-5.5),(8.5,-6.2),(9,-6),(9.5,-6.8),(10,-7.5),(10.5,-8.2),(11,-8),(11.5,-8.8),(12,-9.5),(12.5,-10.2),(13,-10),(13.5,-10.8),(14,-11.5),(14.5,-12.2),(14.75,-9),(15,-9.3),(15.5,-10),(16,-10.7),(16.5,-10.5),(17,-11.3),(17.5,-12),(18,-12.7),(18.5,-12.5),(19,-13.3),(19.5,-14),(20,-14.7),(20.5,-14.5),(21,-15.3),(21.25,-12.5),(21.5,-12.8),(22,-13.5),(22.5,-14.2),(23,-14),(23.75,-14.8)]
n03 = [(0,0),(0.5,0.5),(1,-0.3),(1.5,-1),(2,-1.7),(2.5,-1.5),(3,-2.3),(3.25,1),(3.5,0.7),(4,0),(4.5,-0.7),(5,-0.5),(5.5,-1.3),(6,-2),(6.5,-2.7),(7,-2.5),(7.5,-3.3),(8,-4),(8.5,-4.7),(9,-4.5),(9.5,-5.3),(10,-6),(10.25,-2),(10.5,-2.3),(11,-3),(11.5,-3.7),(12,-3.5),(12.5,-4.3),(13,-5),(13.5,-5.7),(14,-5.5),(14.5,-6.3),(15,-7),(15.5,-7.7),(16,-7.5),(16.5,-8.3),(17,-9),(17.5,-9.7),(17.75,-6),(18,-6.3),(18.5,-7),(19,-7.7),(19.5,-7.5),(20,-8.3),(20.5,-9),(21,-9.7),(21.5,-9.5),(22,-10.3),(22.5,-11),(23,-11.7),(23.75,-12.5)]
n04 = [(0,0),(0.5,1),(1,0.3),(1.5,2),(2,1.3),(2.5,0.6),(3,2.5),(3.5,1.8),(4,4),(4.5,3.3),(5,2.6),(5.5,5),(6,4.3),(6.5,3.6),(7,6.5),(7.5,5.8),(8,5.1),(8.5,4.4),(8.75,9),(9,8.7),(9.5,8),(10,7.3),(10.5,7.5),(11,6.7),(11.5,6),(12,5.3),(12.25,11),(12.5,10.7),(13,10),(13.5,9.3),(14,9.5),(14.5,8.7),(15,8),(15.5,7.3),(16,7.5),(16.5,6.7),(16.75,11.5),(17,11.2),(17.5,10.5),(18,9.8),(18.5,10),(19,9.2),(19.5,8.5),(20,7.8),(20.5,8),(21,7.2),(21.5,6.5),(21.75,10.5),(22,10.2),(22.5,9.5),(23,8.8),(23.75,8)]

SERIES = [
    (RED, c01), (GRN, c02), (BLU, c03), (MAG, c04), (CYN, c05), (DRD, c06),
    (BLK, c07), (YEL, c08), (DBL, c09), (RED, c10), (GRN, c11), (BLU, c12),
    (SBL, c13), (RED, c14), (MAG, c15), (CYN, c16), (BLU, c17), (RED, c18),
    (GRN, c19), (MAG, c20), (CYN, c21), (BLU, c22), (RED, c23), (DRD, c24),
    (YEL, c25), (GRN, c26), (BLU, n01), (MAG, n02), (CYN, n03), (DRD, n04),
    (GRN, low1), (YEL, low2), (SBL, low3), (RED, low4), (DBL, low5),
    (RED, low6), (BLU, low7), (CYN, low8), (GRN, low9),
    (SBL, s11), (DRD, s12), (RED, s09), (BLU, s10), (RED, s08), (BLU, s07),
    (BLU, s06), (RED, s05), (BLU, s04), (YEL, s03), (MAG, s02), (GRN, s01),
]

fig = plt.figure(figsize=(6.4, 4.8), dpi=100)
ax = fig.add_axes([51/640, 1-445/480, 571/640, 413/480])

for color, pts in SERIES:
    xs = [p[0] for p in pts]
    ys = [p[1] for p in pts]
    ax.plot(xs, ys, color=color, linewidth=0.9)

ax.set_xlim(0, 23.75)
ax.set_ylim(-40, 40)
ax.set_xticks(XTICKS)
ax.set_yticks(YTICKS)
mono = "DejaVu Sans Mono"
ax.set_xticklabels([str(t) for t in XTICKS], fontsize=8, family=mono)
ax.set_yticklabels([str(t) for t in YTICKS], fontsize=8, family=mono)
ax.tick_params(direction="in", length=5, width=1, top=True, right=True, pad=4)
for sp in ax.spines.values():
    sp.set_linewidth(1)
ax.set_title(TITLE, fontsize=8, family=mono, pad=10)
ax.set_xlabel(XLABEL, fontsize=8, family=mono, labelpad=6)
ax.set_ylabel(YLABEL, fontsize=8, family=mono, labelpad=6)

fig.savefig("out.png", dpi=100)
